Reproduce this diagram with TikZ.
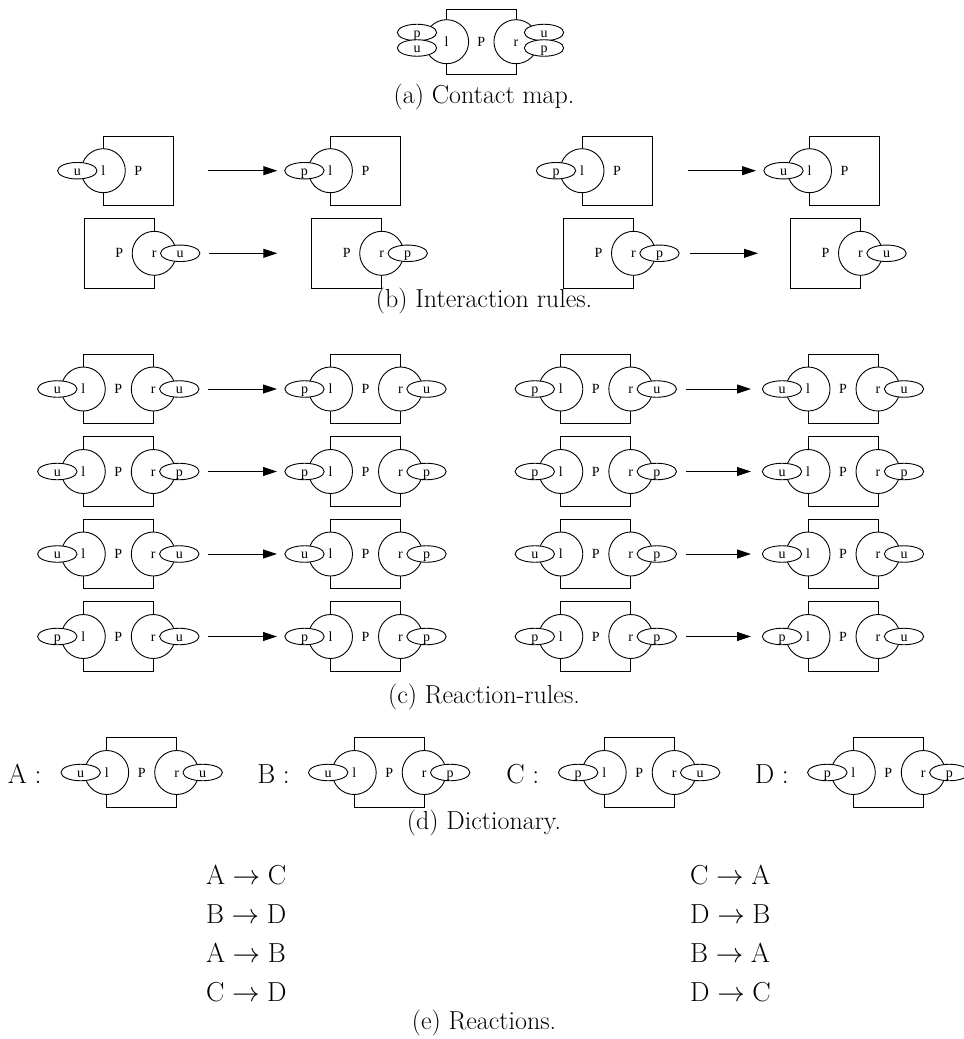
\RequirePackage{fix-cm}
\documentclass[tikz,border=0pt]{standalone}
\usepackage{fontspec}
\newfontfamily\timesf{Liberation Serif}
\usetikzlibrary{shapes.geometric,arrows.meta,calc}
\tikzset{
  ln/.style={line width=0.9pt},
  lbl/.style={font=\timesf\fontsize{14}{14}\selectfont, text height=9pt, text depth=0pt},
  agbox/.style={draw, ln, lbl, rectangle, minimum width=70pt, minimum height=69.5pt, inner sep=0pt, outer sep=0pt},
  site/.style={draw, ln, lbl, fill=white, circle, minimum size=44pt, inner sep=0pt, outer sep=0pt},
  st/.style={draw, ln, lbl, fill=white, ellipse, minimum width=39.4pt, minimum height=16.5pt, inner sep=0pt, outer sep=0pt},
  arr/.style={ln, -{Triangle[length=14pt,width=9pt]}},
  captxt/.style={font=\fontsize{26}{26}\selectfont, anchor=base, inner sep=0pt},
  bigtxt/.style={font=\fontsize{27.5}{27.5}\selectfont, inner sep=0pt}
}
\newcommand\agLR[5]{%
  \node[agbox] (#1) at (#2,#3) {P};
  \node[site] (#1-l) at (#1.west) {l};
  \node[site] (#1-r) at (#1.east) {r};
  \node[st] (#1-ls) at ($(#1-l.center)+(-26,0)$) {#4};
  \node[st] (#1-rs) at ($(#1-r.center)+(26,0)$) {#5};
}
\newcommand\agL[4]{%
  \node[agbox] (#1) at (#2,#3) {P};
  \node[site] (#1-l) at (#1.west) {l};
  \node[st] (#1-ls) at ($(#1-l.center)+(-26,0)$) {#4};
}
\newcommand\agR[4]{%
  \node[agbox] (#1) at (#2,#3) {P};
  \node[site] (#1-r) at (#1.east) {r};
  \node[st] (#1-rs) at ($(#1-r.center)+(26,0)$) {#4};
}
\newcommand\rarrow[4]{% name, x1, x2, y
  \coordinate (#1s) at (#2,#4);
  \coordinate (#1e) at (#3,#4);
  \draw[arr] (#1s) -- (#1e);
}
\begin{document}
\begin{tikzpicture}[x=1pt,y=-1pt]
\path[fill=white] (0,0) rectangle (964,1039);
\useasboundingbox (0,0) rectangle (964,1039);

% (a) contact map
\node[agbox, minimum width=69.3pt, minimum height=64.7pt] (cm) at (481.3,41.7) {P};
\node[site] (cm-l) at (cm.west) {l};
\node[site] (cm-r) at (cm.east) {r};
\node[st] (cm-lp) at (417,32.5) {p};
\node[st] (cm-lu) at (417,48) {u};
\node[st] (cm-ru) at (544,32.5) {u};
\node[st] (cm-rp) at (544,48) {p};
\node[captxt] (capa) at (484,103) {(a) Contact map.};

% (b) interaction rules
\agL{b1a}{138.3}{170.7}{u}
\agL{b1b}{365.4}{170.7}{p}
\rarrow{ab1}{208.3}{277.3}{170.7}
\agL{b1c}{617}{170.7}{p}
\agL{b1d}{844.5}{170.7}{u}
\rarrow{ab2}{688}{756}{170.7}
\agR{b2a}{119.2}{253.3}{u}
\agR{b2b}{346.7}{253.3}{p}
\rarrow{ab3}{209.3}{277.3}{253.3}
\agR{b2c}{598.5}{253.3}{p}
\agR{b2d}{825.5}{253.3}{u}
\rarrow{ab4}{690}{758}{253.3}
\node[captxt] (capb) at (484,307) {(b) Interaction rules.};

% (c) reaction rules
\agLR{c1a}{118.3}{389}{u}{u}
\agLR{c1b}{365.5}{389}{p}{u}
\rarrow{ac1}{208}{277}{389}
\agLR{c1c}{595.8}{389}{p}{u}
\agLR{c1d}{843}{389}{u}{u}
\rarrow{ac2}{686}{751}{389}

\agLR{c2a}{118.3}{471.5}{u}{p}
\agLR{c2b}{365.5}{471.5}{p}{p}
\rarrow{ac3}{208}{277}{471.5}
\agLR{c2c}{595.8}{471.5}{p}{p}
\agLR{c2d}{843}{471.5}{u}{p}
\rarrow{ac4}{686}{751}{471.5}

\agLR{c3a}{118.3}{554}{u}{u}
\agLR{c3b}{365.5}{554}{u}{p}
\rarrow{ac5}{208}{277}{554}
\agLR{c3c}{595.8}{554}{u}{p}
\agLR{c3d}{843}{554}{u}{u}
\rarrow{ac6}{686}{751}{554}

\agLR{c4a}{118.3}{636.5}{p}{u}
\agLR{c4b}{365.5}{636.5}{p}{p}
\rarrow{ac7}{208}{277}{636.5}
\agLR{c4c}{595.8}{636.5}{p}{p}
\agLR{c4d}{843}{636.5}{p}{u}
\rarrow{ac8}{686}{751}{636.5}
\node[captxt] (capc) at (484,703) {(c) Reaction-rules.};

% (d) dictionary
\agLR{dA}{141.7}{772.5}{u}{u}
\agLR{dB}{389.2}{772.5}{u}{p}
\agLR{dC}{639.2}{772.5}{p}{u}
\agLR{dD}{888.3}{772.5}{p}{p}
\node[bigtxt, anchor=base east] (lA) at (41.7,783) {$\mathrm{A}:$};
\node[bigtxt, anchor=base east] (lB) at (290,783) {$\mathrm{B}:$};
\node[bigtxt, anchor=base east] (lC) at (539.5,783) {$\mathrm{C}:$};
\node[bigtxt, anchor=base east] (lD) at (789,783) {$\mathrm{D}:$};
\node[captxt] (capd) at (484,829) {(d) Dictionary.};

% (e) reactions
\node[bigtxt, anchor=base west] (r1) at (205.8,884) {$\mathrm{A}\rightarrow\mathrm{C}$};
\node[bigtxt, anchor=base west] (r2) at (205.8,923) {$\mathrm{B}\rightarrow\mathrm{D}$};
\node[bigtxt, anchor=base west] (r3) at (205.8,962.5) {$\mathrm{A}\rightarrow\mathrm{B}$};
\node[bigtxt, anchor=base west] (r4) at (205.8,1001.5) {$\mathrm{C}\rightarrow\mathrm{D}$};
\node[bigtxt, anchor=base west] (r5) at (690,884) {$\mathrm{C}\rightarrow\mathrm{A}$};
\node[bigtxt, anchor=base west] (r6) at (690,923) {$\mathrm{D}\rightarrow\mathrm{B}$};
\node[bigtxt, anchor=base west] (r7) at (690,962.5) {$\mathrm{B}\rightarrow\mathrm{A}$};
\node[bigtxt, anchor=base west] (r8) at (690,1001.5) {$\mathrm{D}\rightarrow\mathrm{C}$};
\node[captxt] (cape) at (484,1029) {(e) Reactions.};
\end{tikzpicture}
\end{document}
